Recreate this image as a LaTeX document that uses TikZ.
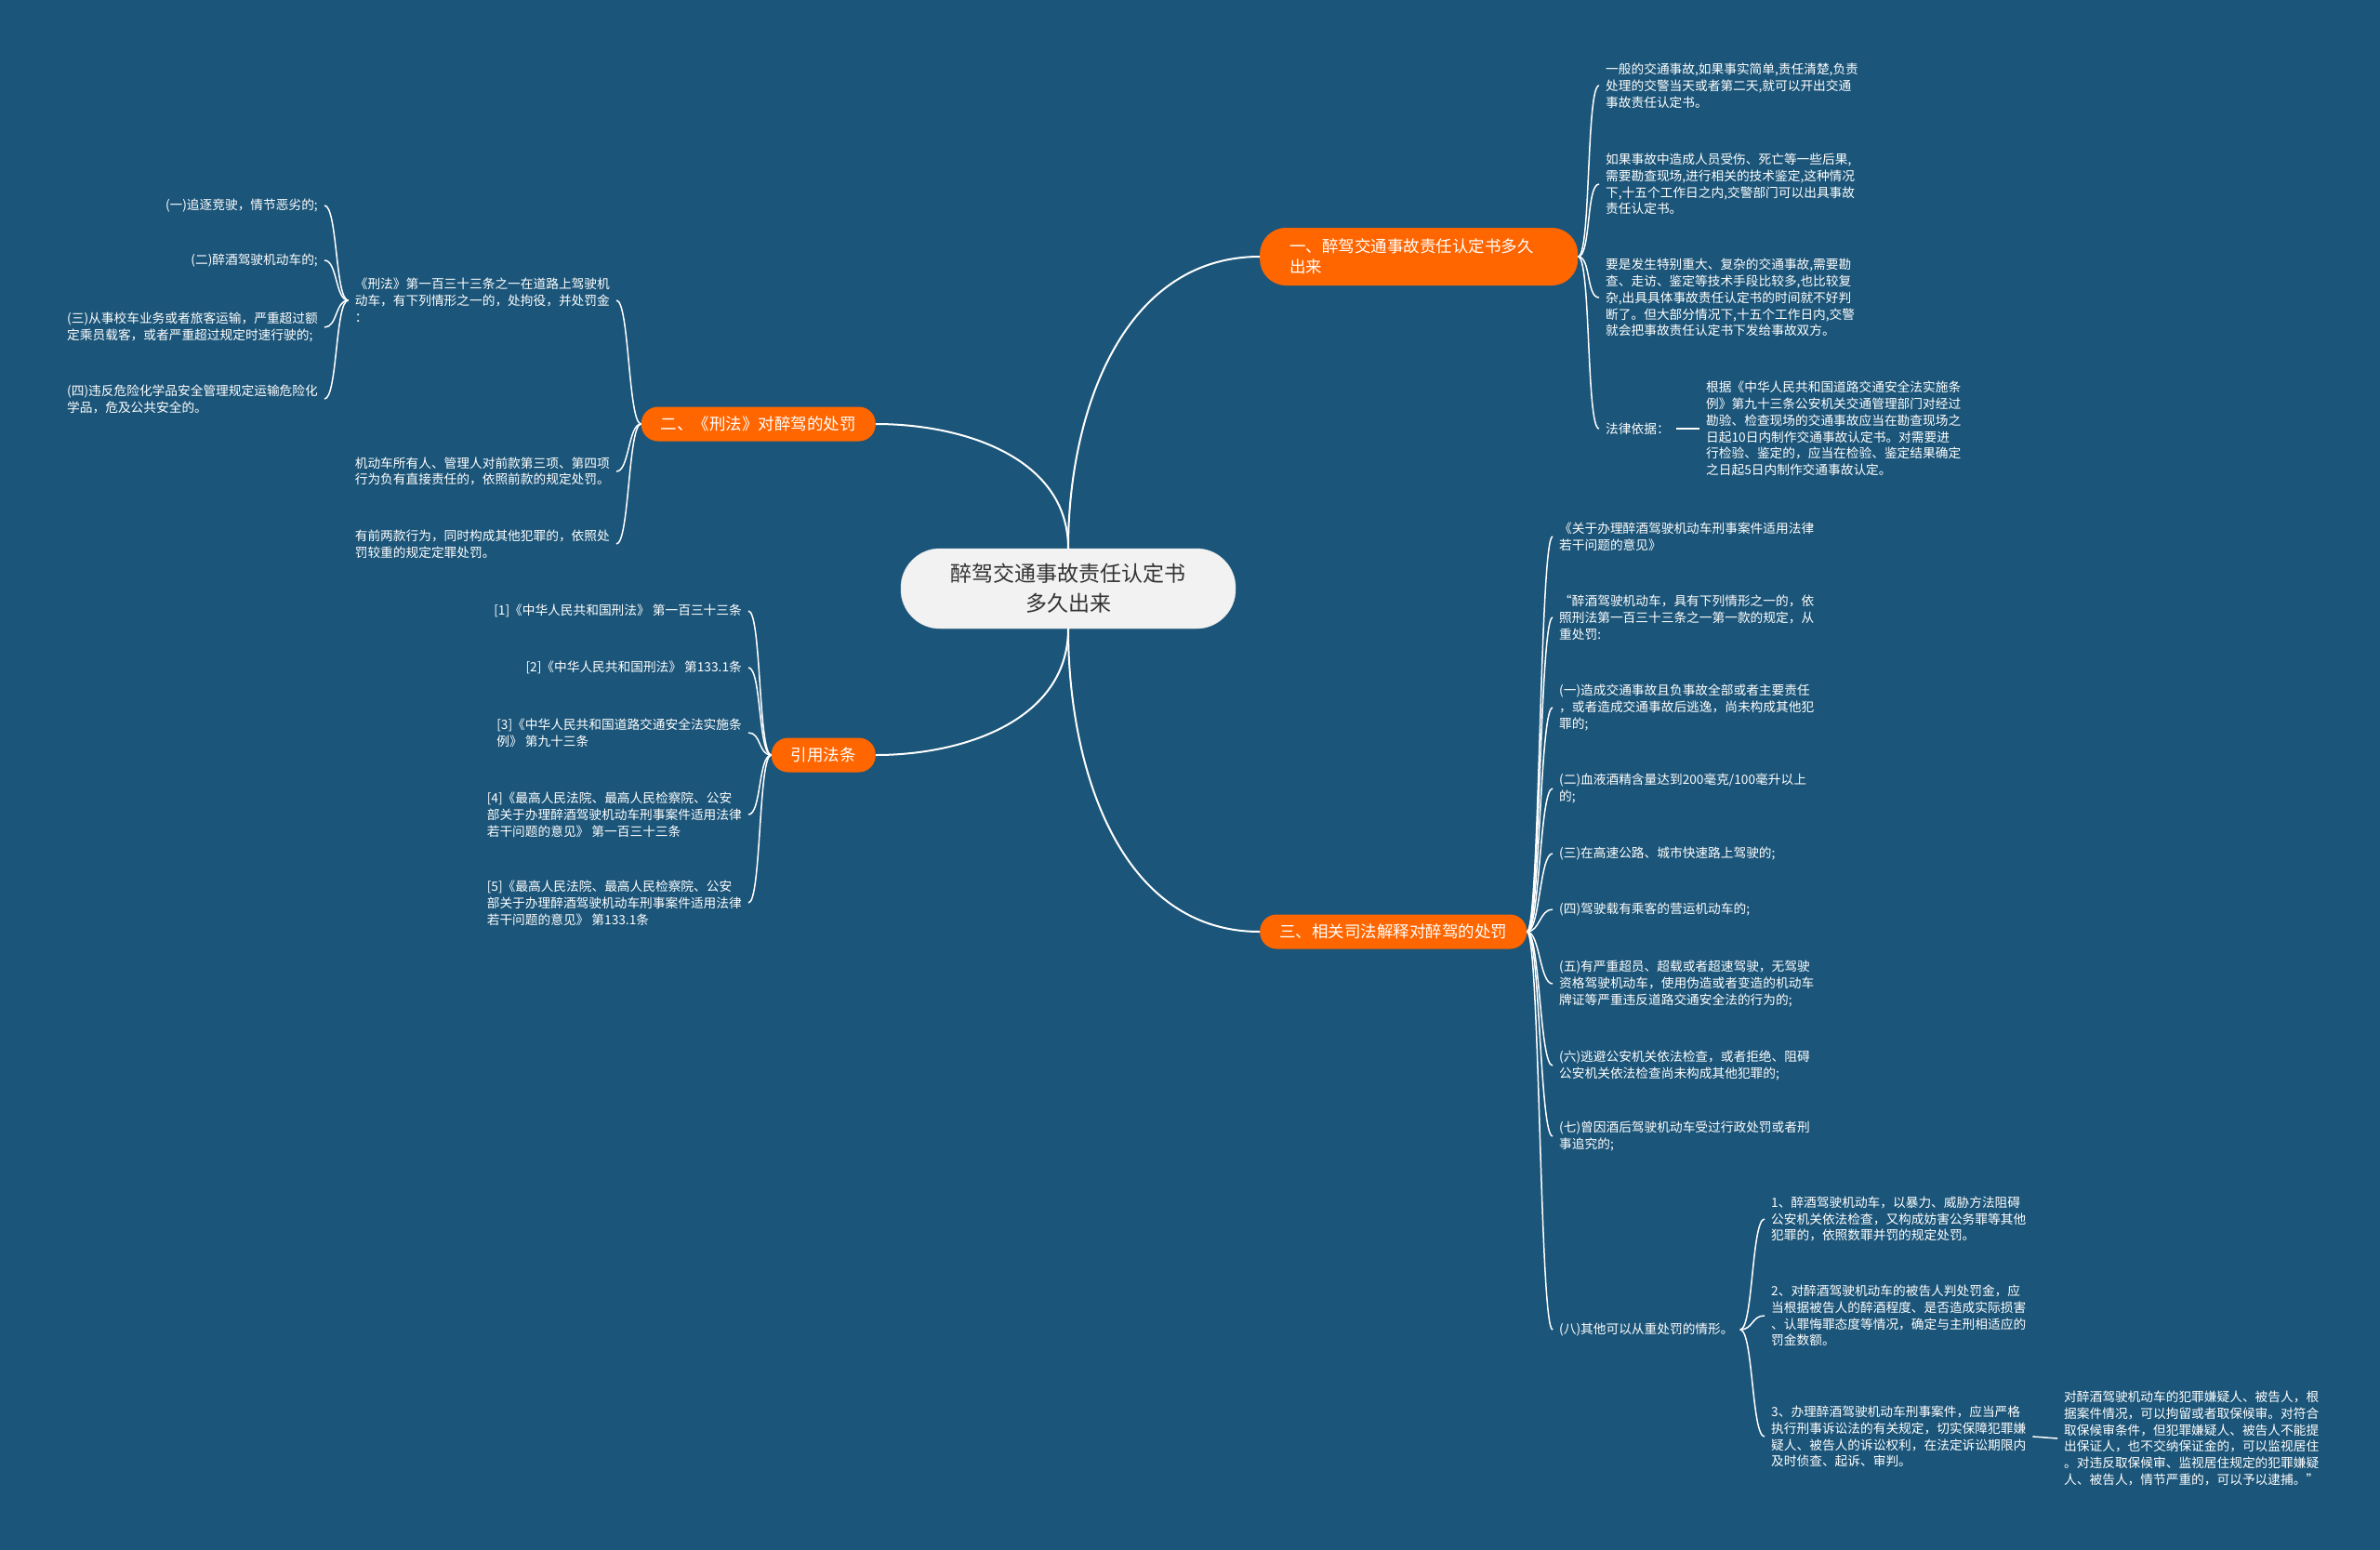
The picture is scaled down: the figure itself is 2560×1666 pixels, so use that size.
\documentclass[tikz,border=0pt]{standalone}
\usepackage{fontspec}
\setmainfont{Noto Sans CJK SC}
\usetikzlibrary{calc}
\definecolor{bgblue}{RGB}{27,85,121}
\definecolor{topicorange}{RGB}{255,102,0}
\definecolor{rootgray}{RGB}{242,242,242}
\definecolor{roottext}{RGB}{51,51,51}
\newcommand{\leafsize}{\fontsize{13.7}{17.8}\selectfont}
\newcommand{\topicsize}{\fontsize{17.5}{22}\selectfont}
\newcommand{\rootsize}{\fontsize{23}{32}\selectfont}
\tikzset{
  root/.style={rectangle,fill=rootgray,draw=black!10,rounded corners=42pt,
    minimum width=360pt,minimum height=86pt,align=center,text=roottext,font=\rootsize},
  topic/.style={rectangle,fill=topicorange,rounded corners=18pt,minimum height=37pt,
    inner xsep=21pt,align=left,text=white,font=\topicsize},
  leaf/.style={inner xsep=7pt,inner ysep=2pt,align=left,text=white,font=\leafsize},
  limb/.style={draw=white,line width=2pt},
  twig/.style={draw=white,line width=1.5pt},
  rhook/.style={to path={.. controls +(14,0) and +(-14,0) .. (\tikztotarget)}},
  lhook/.style={to path={.. controls +(-14,0) and +(14,0) .. (\tikztotarget)}},
}

\begin{document}
\begin{tikzpicture}[x=1pt,y=1pt]
  \useasboundingbox (0,0) rectangle (2560,-1666);
  \fill[bgblue] (-6,6) rectangle (2566,-1672);
  % centre and the four topics
  \node[root] (root) at (1149,-633) {醉驾交通事故责任认定书\\多久出来};
  \node[topic,anchor=west,rounded corners=28pt,inner xsep=32pt,text width=278pt,minimum height=62pt] (b1) at (1355,-276)
    {一、醉驾交通事故责任认定书多久\\出来};
  \node[topic,anchor=east] (b2) at (942,-456) {二、《刑法》对醉驾的处罚};
  \node[topic,anchor=west] (b3) at (1355,-1002) {三、相关司法解释对醉驾的处罚};
  \node[topic,anchor=east] (b4) at (942,-812) {引用法条};
  \draw[limb] (root.north) to[out=90,in=180] (b1.west);
  \draw[limb] (root.north) to[out=90,in=0] (b2.east);
  \draw[limb] (root.south) to[out=-90,in=180] (b3.west);
  \draw[limb] (root.south) to[out=-90,in=0] (b4.east);

  % topic 1: when the report is issued
  \node[leaf,anchor=west] (c1a) at (1720,-92) {一般的交通事故,如果事实简单,责任清楚,负责\\处理的交警当天或者第二天,就可以开出交通\\事故责任认定书。};
  \node[leaf,anchor=west] (c1b) at (1720,-198) {如果事故中造成人员受伤、死亡等一些后果,\\需要勘查现场,进行相关的技术鉴定,这种情况\\下,十五个工作日之内,交警部门可以出具事故\\责任认定书。};
  \node[leaf,anchor=west] (c1c) at (1720,-320) {要是发生特别重大、复杂的交通事故,需要勘\\查、走访、鉴定等技术手段比较多,也比较复\\杂,出具具体事故责任认定书的时间就不好判\\断了。但大部分情况下,十五个工作日内,交警\\就会把事故责任认定书下发给事故双方。};
  \node[leaf,anchor=west] (c1d) at (1720,-461) {法律依据：};
  \node[leaf,anchor=west] (c1e) at (1828,-461) {根据《中华人民共和国道路交通安全法实施条\\例》第九十三条公安机关交通管理部门对经过\\勘验、检查现场的交通事故应当在勘查现场之\\日起10日内制作交通事故认定书。对需要进\\行检验、鉴定的，应当在检验、鉴定结果确定\\之日起5日内制作交通事故认定。};
  \draw[twig] (b1.east) to[rhook] (c1a.west);
  \draw[twig] (b1.east) to[rhook] (c1b.west);
  \draw[twig] (b1.east) to[rhook] (c1c.west);
  \draw[twig] (b1.east) to[rhook] (c1d.west);
  \draw[twig] (c1d.east) -- (c1e.west);

  % topic 2: criminal law
  \node[leaf,anchor=east] (law) at (663,-323) {《刑法》第一百三十三条之一在道路上驾驶机\\动车，有下列情形之一的，处拘役，并处罚金\\：};
  \node[leaf,anchor=east] (law1) at (349,-221) {(一)追逐竞驶，情节恶劣的;};
  \node[leaf,anchor=east] (law2) at (349,-280) {(二)醉酒驾驶机动车的;};
  \node[leaf,anchor=east] (law3) at (349,-352) {(三)从事校车业务或者旅客运输，严重超过额\\定乘员载客，或者严重超过规定时速行驶的;};
  \node[leaf,anchor=east] (law4) at (349,-429) {(四)违反危险化学品安全管理规定运输危险化\\学品，危及公共安全的。};
  \node[leaf,anchor=east] (own) at (663,-507) {机动车所有人、管理人对前款第三项、第四项\\行为负有直接责任的，依照前款的规定处罚。};
  \node[leaf,anchor=east] (both) at (663,-585) {有前两款行为，同时构成其他犯罪的，依照处\\罚较重的规定定罪处罚。};
  \draw[twig] (b2.west) to[lhook] (law.east);
  \draw[twig] (b2.west) to[lhook] (own.east);
  \draw[twig] (b2.west) to[lhook] (both.east);
  \draw[twig] (law.west) to[lhook] (law1.east);
  \draw[twig] (law.west) to[lhook] (law2.east);
  \draw[twig] (law.west) to[lhook] (law3.east);
  \draw[twig] (law.west) to[lhook] (law4.east);

  % topic 4: cited articles
  \node[leaf,anchor=east] (ref1) at (805,-657) {[1]《中华人民共和国刑法》 第一百三十三条};
  \node[leaf,anchor=east] (ref2) at (805,-718) {[2]《中华人民共和国刑法》 第133.1条};
  \node[leaf,anchor=east] (ref3) at (805,-788) {[3]《中华人民共和国道路交通安全法实施条\\例》 第九十三条};
  \node[leaf,anchor=east] (ref4) at (805,-876) {[4]《最高人民法院、最高人民检察院、公安\\部关于办理醉酒驾驶机动车刑事案件适用法律\\若干问题的意见》 第一百三十三条};
  \node[leaf,anchor=east] (ref5) at (805,-971) {[5]《最高人民法院、最高人民检察院、公安\\部关于办理醉酒驾驶机动车刑事案件适用法律\\若干问题的意见》 第133.1条};
  \draw[twig] (b4.west) to[lhook] (ref1.east);
  \draw[twig] (b4.west) to[lhook] (ref2.east);
  \draw[twig] (b4.west) to[lhook] (ref3.east);
  \draw[twig] (b4.west) to[lhook] (ref4.east);
  \draw[twig] (b4.west) to[lhook] (ref5.east);

  % topic 3: judicial interpretation
  \node[leaf,anchor=west] (k1) at (1670,-577) {《关于办理醉酒驾驶机动车刑事案件适用法律\\若干问题的意见》};
  \node[leaf,anchor=west] (k2) at (1670,-664) {“醉酒驾驶机动车，具有下列情形之一的，依\\照刑法第一百三十三条之一第一款的规定，从\\重处罚:};
  \node[leaf,anchor=west] (k3) at (1670,-761) {(一)造成交通事故且负事故全部或者主要责任\\，或者造成交通事故后逃逸，尚未构成其他犯\\罪的;};
  \node[leaf,anchor=west] (k4) at (1670,-848) {(二)血液酒精含量达到200毫克/100毫升以上\\的;};
  \node[leaf,anchor=west] (k5) at (1670,-918) {(三)在高速公路、城市快速路上驾驶的;};
  \node[leaf,anchor=west] (k6) at (1670,-978) {(四)驾驶载有乘客的营运机动车的;};
  \node[leaf,anchor=west] (k7) at (1670,-1058) {(五)有严重超员、超载或者超速驾驶，无驾驶\\资格驾驶机动车，使用伪造或者变造的机动车\\牌证等严重违反道路交通安全法的行为的;};
  \node[leaf,anchor=west] (k8) at (1670,-1146) {(六)逃避公安机关依法检查，或者拒绝、阻碍\\公安机关依法检查尚未构成其他犯罪的;};
  \node[leaf,anchor=west] (k9) at (1670,-1222) {(七)曾因酒后驾驶机动车受过行政处罚或者刑\\事追究的;};
  \node[leaf,anchor=west] (k10) at (1670,-1430) {(八)其他可以从重处罚的情形。};
  \draw[twig] (b3.east) to[rhook] (k1.west);
  \draw[twig] (b3.east) to[rhook] (k2.west);
  \draw[twig] (b3.east) to[rhook] (k3.west);
  \draw[twig] (b3.east) to[rhook] (k4.west);
  \draw[twig] (b3.east) to[rhook] (k5.west);
  \draw[twig] (b3.east) to[rhook] (k6.west);
  \draw[twig] (b3.east) to[rhook] (k7.west);
  \draw[twig] (b3.east) to[rhook] (k8.west);
  \draw[twig] (b3.east) to[rhook] (k9.west);
  \draw[twig] (b3.east) to[rhook] (k10.west);
  % (八) and its sub-items
  \node[leaf,anchor=west] (g1) at (1898,-1311) {1、醉酒驾驶机动车，以暴力、威胁方法阻碍\\公安机关依法检查，又构成妨害公务罪等其他\\犯罪的，依照数罪并罚的规定处罚。};
  \node[leaf,anchor=west] (g2) at (1898,-1415) {2、对醉酒驾驶机动车的被告人判处罚金，应\\当根据被告人的醉酒程度、是否造成实际损害\\、认罪悔罪态度等情况，确定与主刑相适应的\\罚金数额。};
  \node[leaf,anchor=west] (g3) at (1898,-1545) {3、办理醉酒驾驶机动车刑事案件，应当严格\\执行刑事诉讼法的有关规定，切实保障犯罪嫌\\疑人、被告人的诉讼权利，在法定诉讼期限内\\及时侦查、起诉、审判。};
  \node[leaf,anchor=west] (g4) at (2213,-1547) {对醉酒驾驶机动车的犯罪嫌疑人、被告人，根\\据案件情况，可以拘留或者取保候审。对符合\\取保候审条件，但犯罪嫌疑人、被告人不能提\\出保证人，也不交纳保证金的，可以监视居住\\。对违反取保候审、监视居住规定的犯罪嫌疑\\人、被告人，情节严重的，可以予以逮捕。”};
  \draw[twig] (k10.east) to[rhook] (g1.west);
  \draw[twig] (k10.east) to[rhook] (g2.west);
  \draw[twig] (k10.east) to[rhook] (g3.west);
  \draw[twig] (g3.east) -- (g4.west);
\end{tikzpicture}
\end{document}
